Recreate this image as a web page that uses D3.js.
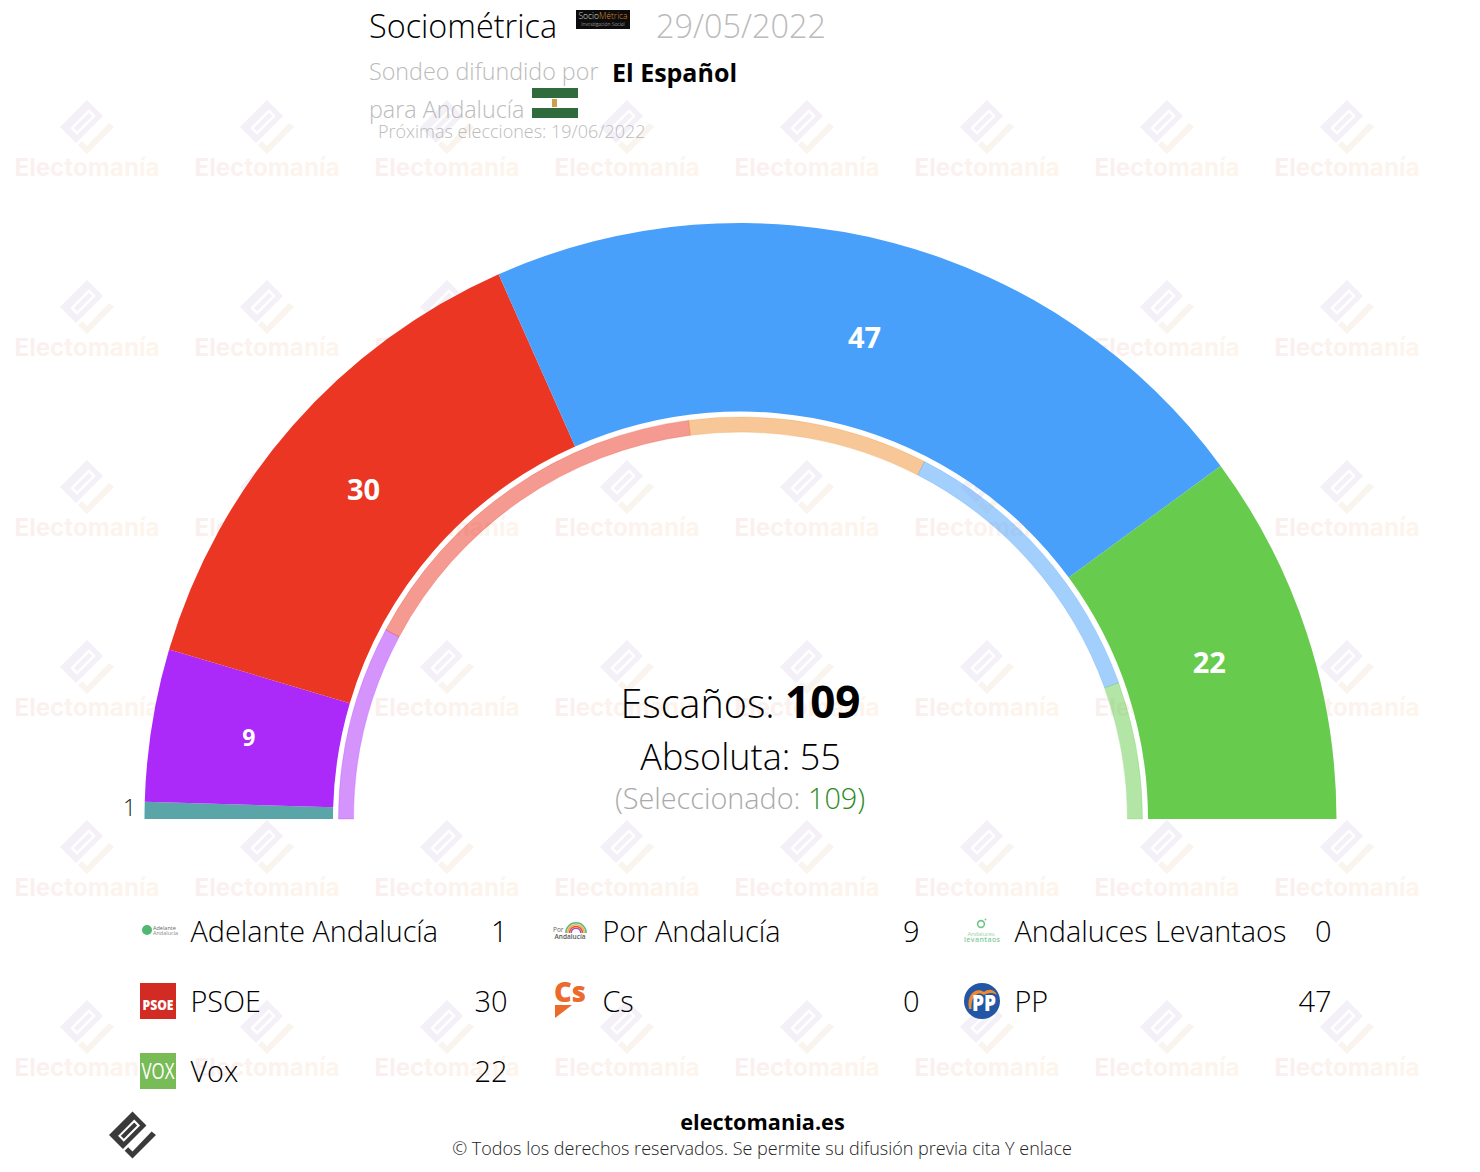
<!DOCTYPE html>
<html>
<head>
<meta charset="utf-8">
<title>Sociométrica 29/05/2022</title>
<script src="https://cdn.jsdelivr.net/npm/d3@7"></script>
<style>
  html, body { margin: 0; padding: 0; background: #fff; }
  svg { display: block; font-family: "Open Sans", sans-serif; }
</style>
</head>
<body>
<div id="chart"></div>
<script>
// Data
const parties = ['Adelante Andalucía', 'Por Andalucía', 'Andaluces Levantaos', 'PSOE', 'Cs', 'PP', 'Vox'];
const seats = [1, 9, 0, 30, 0, 47, 22];
const colors = ['#5aa5a8', '#ab2af9', '#6fc48c', '#ea3623', '#f09030', '#48a0fa', '#67cb4d'];

// Inner ring: seats at the previous election
const previousParties = ['Adelante Andalucía', 'PSOE', 'Cs', 'PP', 'Vox'];
const previousSeats = [17, 33, 21, 26, 12];
const previousColors = ['#ab2af9', '#ea3623', '#f09030', '#48a0fa', '#67cb4d'];

const totalSeats = 109;
const majority = 55;
const selected = 109;

const width = 1480, height = 1172;
const cx = 740.5, cy = 819;

const svg = d3.select('#chart').append('svg')
  .attr('width', width).attr('height', height)
  .attr('viewBox', `0 0 ${width} ${height}`);

const defs = svg.append('defs');
const grad = defs.append('linearGradient').attr('id', 'wm-text');
grad.append('stop').attr('offset', '0%').attr('stop-color', '#faefef');
grad.append('stop').attr('offset', '100%').attr('stop-color', '#fdf5ec');

// ------------------------------------------------------------
//  Watermark
// ------------------------------------------------------------
const diamond = 'M0,-27L16,-11L-11,16L-27,0Z';
const slit = 'M-15,1L2,-16L7,-11L-10,6Z';
const check = 'M0,27L-9,18L-5,14L0,19L22,-4L27,0Z';

function drawMark(g, fill1, fill2) {
  g.append('path').attr('d', diamond).attr('fill', fill1);
  g.append('path').attr('d', slit).attr('fill', 'none').attr('stroke', '#fff').attr('stroke-width', 2.4);
  g.append('path').attr('d', check).attr('fill', fill2);
}

const wmX = d3.range(87, 1500, 180);
const wmY = d3.range(127, 1100, 180);
const wm = svg.append('g');
wmY.forEach(y => wmX.forEach(x => {
  const t = wm.append('g').attr('transform', `translate(${x},${y})`);
  drawMark(t, '#f4f0f8', '#faf4ef');
  t.append('text').attr('y', 49).attr('text-anchor', 'middle')
    .attr('font-family', 'Inter, sans-serif').attr('font-weight', 700).attr('font-size', 24.2)
    .attr('fill', 'url(#wm-text)').text('Electomanía');
}));

// ------------------------------------------------------------
//  Hemicycle
// ------------------------------------------------------------
const pie = d3.pie().sort(null).value(d => d)
  .startAngle(-Math.PI / 2).endAngle(Math.PI / 2);

const chart = svg.append('g').attr('transform', `translate(${cx},${cy})`);

const arc = d3.arc().innerRadius(407.5).outerRadius(596);
const labelArc = d3.arc().innerRadius(497).outerRadius(497);
const ringArc = d3.arc().innerRadius(387).outerRadius(402);

const arcs = pie(seats);

chart.selectAll('.seat').data(arcs).join('path')
  .attr('class', 'seat')
  .attr('d', arc)
  .attr('fill', (d, i) => colors[i]);

chart.selectAll('.prev').data(pie(previousSeats)).join('path')
  .attr('class', 'prev')
  .attr('d', ringArc)
  .attr('fill', (d, i) => previousColors[i])
  .attr('fill-opacity', 0.5)
  .attr('stroke', (d, i) => previousColors[i])
  .attr('stroke-opacity', 0.25);

// one-digit seat counts are drawn smaller
chart.selectAll('.seat-label').data(arcs.filter(d => d.data > 1)).join('text')
  .attr('class', 'seat-label')
  .attr('x', d => labelArc.centroid(d)[0] - (d.data < 10 ? 1 : 3.5))
  .attr('y', d => labelArc.centroid(d)[1] - (d.data < 10 ? 3 : 1.5))
  .attr('dy', '0.36em')
  .attr('text-anchor', 'middle')
  .attr('fill', '#fff')
  .attr('font-weight', 700)
  .attr('font-size', d => d.data < 10 ? 23 : 29)
  .text(d => d.data);

// small parties get their number outside the arc
const outerLabelArc = d3.arc().innerRadius(611).outerRadius(611);
chart.selectAll('.seat-out').data(arcs.filter(d => d.data === 1)).join('text')
  .attr('class', 'seat-out')
  .attr('x', d => outerLabelArc.centroid(d)[0])
  .attr('y', d => outerLabelArc.centroid(d)[1] - 2)
  .attr('dy', '0.36em')
  .attr('text-anchor', 'middle')
  .attr('fill', '#222')
  .attr('font-weight', 300)
  .attr('font-size', 23)
  .text(d => d.data);

// Centre texts
const t1 = svg.append('text').attr('x', cx).attr('y', 718).attr('text-anchor', 'middle').attr('font-size', 39.5).attr('font-weight', 300).attr('fill', '#000');
t1.append('tspan').text('Escaños: ');
t1.append('tspan').attr('font-weight', 700).attr('font-size', 44).text(totalSeats);

svg.append('text').attr('x', cx).attr('y', 770).attr('text-anchor', 'middle').attr('font-size', 36).attr('font-weight', 300).attr('fill', '#000')
  .text(`Absoluta: ${majority}`);

const t3 = svg.append('text').attr('x', cx - 0.5).attr('y', 809).attr('text-anchor', 'middle').attr('font-size', 28.8).attr('font-weight', 300).attr('fill', '#aaa');
t3.append('tspan').text('(Seleccionado: ');
t3.append('tspan').attr('fill', '#2e8b1e').text(selected + ')');

// ------------------------------------------------------------
//  Header
// ------------------------------------------------------------
function label(x, y, txt, size, fill, weight) {
  return svg.append('text').attr('x', x).attr('y', y).attr('font-size', size)
    .attr('fill', fill).attr('font-weight', weight || 300).text(txt);
}

label(369, 38, 'Sociométrica', 32.4, '#000');
label(656, 38, '29/05/2022', 32.4, '#bbb');
label(369, 80, 'Sondeo difundido por', 23.3, '#bbb');
label(612, 82, 'El Español', 25, '#000', 700);
label(369, 118, 'para Andalucía', 23.3, '#bbb');
label(378, 138, 'Próximas elecciones: 19/06/2022', 18, '#bbb');

// pollster logo
svg.append('rect').attr('x', 576).attr('y', 10).attr('width', 54).attr('height', 19).attr('fill', '#0c0c0c');
const sm = label(603, 19, '', 8.5, '#ddd').attr('text-anchor', 'middle');
sm.append('tspan').text('Socio');
sm.append('tspan').attr('fill', '#d98a2b').text('Métrica');
label(603, 26, 'Investigación Social', 5, '#ccc').attr('text-anchor', 'middle');

// Andalusian flag
svg.append('rect').attr('x', 532).attr('y', 88).attr('width', 46).attr('height', 10).attr('fill', '#2f6b3c');
svg.append('rect').attr('x', 532).attr('y', 108).attr('width', 46).attr('height', 10).attr('fill', '#2f6b3c');
svg.append('rect').attr('x', 552).attr('y', 99).attr('width', 5).attr('height', 8).attr('fill', '#c9a24a');

// ------------------------------------------------------------
//  Legend
// ------------------------------------------------------------
const legendX = d3.scalePoint().domain([0, 1, 2]).range([140, 964]);
const legendY = d3.scalePoint().domain([0, 1, 2]).range([931, 1071]);

const logos = {
  'Adelante Andalucía': g => {
    g.append('circle').attr('cx', 7).attr('cy', -1).attr('r', 5).attr('fill', '#4fb873');
    g.append('text').attr('x', 13).attr('y', -1).attr('font-size', 5.5).attr('fill', '#666').text('Adelante');
    g.append('text').attr('x', 13).attr('y', 4).attr('font-size', 5.5).attr('fill', '#888').text('Andalucía');
  },
  'Por Andalucía': g => {
    const rainbow = ['#a050b0', '#e8504a', '#f0b030', '#5cb880'];
    const ra = d3.arc().startAngle(-Math.PI / 2).endAngle(Math.PI / 2);
    rainbow.forEach((c, i) => {
      g.append('path').attr('transform', 'translate(24,2)')
        .attr('d', ra({ innerRadius: 4 + i * 1.8, outerRadius: 5.5 + i * 1.8 }))
        .attr('fill', c);
    });
    g.append('text').attr('x', 1).attr('y', 1).attr('font-size', 6.5).attr('fill', '#666').text('Por');
    g.append('text').attr('x', 18).attr('y', 8).attr('font-size', 6.5).attr('font-weight', 600).attr('fill', '#555').attr('text-anchor', 'middle').text('Andalucía');
  },
  'Andaluces Levantaos': g => {
    g.append('circle').attr('cx', 17).attr('cy', -7).attr('r', 3.4).attr('fill', 'none').attr('stroke', '#6fc48c').attr('stroke-width', 1.6);
    g.append('circle').attr('cx', 21.5).attr('cy', -11.5).attr('r', 0.9).attr('fill', '#6fc48c');
    g.append('text').attr('x', 17).attr('y', 5).attr('font-size', 6).attr('text-anchor', 'middle').attr('fill', '#9ad4ac')
      .attr('textLength', 27).text('Andaluces');
    g.append('text').attr('x', 18).attr('y', 11).attr('font-size', 7).attr('font-weight', 600).attr('text-anchor', 'middle').attr('fill', '#7fcc98')
      .attr('textLength', 36).text('levantaos');
  },
  'PSOE': g => {
    g.append('rect').attr('y', -18).attr('width', 36).attr('height', 36).attr('fill', '#d22b24');
    g.append('text').attr('x', 18).attr('y', 9).attr('font-size', 14.5).attr('font-weight', 800).attr('text-anchor', 'middle')
      .attr('textLength', 31).attr('lengthAdjust', 'spacingAndGlyphs').attr('fill', '#fff').text('PSOE');
  },
  'Cs': g => {
    g.append('text').attr('x', 18).attr('y', 1).attr('font-size', 29).attr('font-weight', 800).attr('text-anchor', 'middle')
      .attr('textLength', 32).attr('lengthAdjust', 'spacingAndGlyphs').attr('fill', '#ec6a2c').text('Cs');
    g.append('path').attr('d', d3.line()([[3, 4], [20, 4], [3, 17]])).attr('fill', '#ec6a2c');
  },
  'PP': g => {
    g.append('circle').attr('cx', 18).attr('r', 18).attr('fill', '#2356a4');
    g.append('path').attr('d', 'M5,8C2,-8 13,-14 20,-9C25,-13 31,-11 33,-6C28,-9 24,-8 20,-6C15,-10 7,-7 7.5,8Z').attr('fill', '#f08a2c');
    g.append('text').attr('x', 20).attr('y', 10).attr('font-size', 22).attr('font-weight', 800).attr('text-anchor', 'middle')
      .attr('textLength', 24).attr('lengthAdjust', 'spacingAndGlyphs').attr('fill', '#fff').text('PP');
  },
  'Vox': g => {
    g.append('rect').attr('y', -18).attr('width', 36).attr('height', 36).attr('fill', '#78bb57');
    g.append('text').attr('x', 18).attr('y', 8).attr('font-size', 22).attr('font-weight', 400).attr('text-anchor', 'middle')
      .attr('textLength', 33).attr('lengthAdjust', 'spacingAndGlyphs').attr('fill', '#fff').text('VOX');
  }
};

const legend = svg.selectAll('.legend').data(parties).join('g')
  .attr('class', 'legend')
  .attr('transform', (d, i) => `translate(${legendX(i % 3)},${legendY(Math.floor(i / 3))})`);

legend.each(function (d) { logos[d](d3.select(this).append('g')); });

legend.append('text').attr('class', 'legend-name')
  .attr('x', 50.5).attr('y', 11).attr('font-size', 28.8).attr('font-weight', 300).attr('fill', '#000')
  .text(d => d);

legend.append('text').attr('class', 'legend-value')
  .attr('x', 367.5).attr('y', 11).attr('text-anchor', 'end').attr('font-size', 29).attr('font-weight', 300).attr('fill', '#000')
  .text((d, i) => seats[i]);

// ------------------------------------------------------------
//  Footer
// ------------------------------------------------------------
const footMark = svg.append('g').attr('transform', 'translate(132.5,1135) scale(0.87)');
drawMark(footMark, '#3a3a3a', '#3a3a3a');

label(762.5, 1130, 'electomania.es', 21.7, '#000', 700).attr('text-anchor', 'middle');
label(762, 1155, '© Todos los derechos reservados. Se permite su difusión previa cita Y enlace', 18, '#222').attr('text-anchor', 'middle');
</script>
</body>
</html>
